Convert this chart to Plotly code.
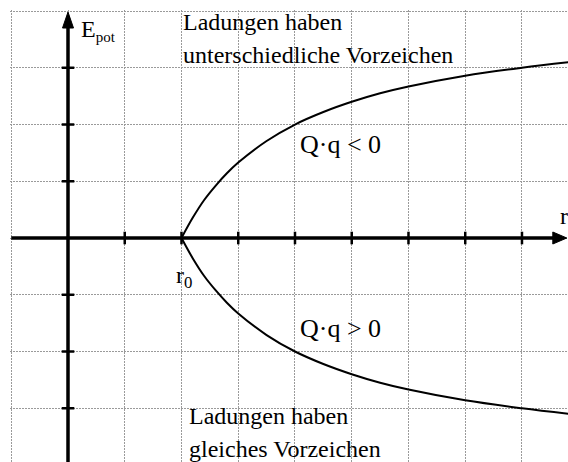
import plotly.graph_objects as go

# Potential energy of two point charges over the distance r (starting at r0)
r_values = [2.0, 2.2, 2.4, 2.6, 2.8, 3.0, 3.5, 4.0, 4.5, 5.0, 5.5, 6.0, 7.0, 8.0, 8.85]
e_opposite = [0, 0.36, 0.67, 0.92, 1.14, 1.33, 1.71, 2.0, 2.22, 2.4, 2.55, 2.67, 2.86, 3.0, 3.1]
e_equal = [0, -0.36, -0.67, -0.92, -1.14, -1.33, -1.71, -2.0, -2.22, -2.4, -2.55, -2.67, -2.86, -3.0, -3.1]

x_ticks = [1, 2, 3, 4, 5, 6, 7, 8]
y_ticks = [-3, -2, -1, 1, 2, 3]
grid_x = [-1, 0, 1, 2, 3, 4, 5, 6, 7, 8]
grid_y = [-3, -2, -1, 0, 1, 2, 3, 4]

X_MIN, X_MAX = -1.022, 8.811
Y_MIN, Y_MAX = -3.947, 4.018
X_TIP, Y_TIP = 8.79, 4.0

FONT = "Liberation Serif"

fig = go.Figure()

# curves
fig.add_trace(go.Scatter(x=r_values, y=e_opposite, mode="lines",
                         line=dict(color="black", width=2, shape="spline"),
                         hoverinfo="skip"))
fig.add_trace(go.Scatter(x=r_values, y=e_equal, mode="lines",
                         line=dict(color="black", width=2, shape="spline"),
                         hoverinfo="skip"))

# tick marks on the axes
fig.add_trace(go.Scatter(x=x_ticks, y=[0] * len(x_ticks), mode="markers",
                         marker=dict(symbol="line-ns", size=9,
                                     line=dict(color="black", width=2.5)),
                         hoverinfo="skip"))
fig.add_trace(go.Scatter(x=[0] * len(y_ticks), y=y_ticks, mode="markers",
                         marker=dict(symbol="line-ew", size=9,
                                     line=dict(color="black", width=2.5)),
                         hoverinfo="skip"))

# axis lines
fig.add_shape(type="line", x0=-1, x1=X_TIP - 0.1, y0=0, y1=0,
              line=dict(color="black", width=3.5), layer="above")
fig.add_shape(type="line", x0=0, x1=0, y0=Y_MIN, y1=Y_TIP - 0.1,
              line=dict(color="black", width=3.5), layer="above")

# arrow heads
fig.add_shape(type="path", xsizemode="pixel", ysizemode="pixel",
              xanchor=0, yanchor=Y_TIP, path="M0,-1 L-5.5,-17 L5.5,-17 Z",
              fillcolor="black", line=dict(color="black", width=1), layer="above")
fig.add_shape(type="path", xsizemode="pixel", ysizemode="pixel",
              xanchor=X_TIP, yanchor=0, path="M0,0 L-14,6 L-14,-6 Z",
              fillcolor="black", line=dict(color="black", width=1), layer="above")

def label(x, y, text, size=24, xanchor="left"):
    fig.add_annotation(x=x, y=y, xref="x", yref="y", text=text, showarrow=False,
                       xanchor=xanchor, yanchor="middle",
                       font=dict(family=FONT, size=size, color="black"))

label(0.2, 3.66, "E<sub><span style='font-size:15px'>pot</span></sub>", size=24)
label(2.0, 3.81, "Ladungen haben")
label(2.0, 3.23, "unterschiedliche Vorzeichen")
label(4.05, 1.64, "Q·q < 0", size=26)
label(4.05, -1.6, "Q·q > 0", size=26)
label(1.87, -0.68, "r<sub>0</sub>", size=24)
label(8.63, 0.38, "r", size=24)
label(2.1, -3.13, "Ladungen haben")
label(2.1, -3.71, "gleiches Vorzeichen")

grid_style = dict(showgrid=True, gridcolor="#9a9a9a", gridwidth=1, griddash="2px,1px",
                  zeroline=False, showline=False, ticks="", showticklabels=False,
                  fixedrange=True)

fig.update_xaxes(range=[X_MIN, X_MAX], tickmode="array", tickvals=grid_x, **grid_style)
fig.update_yaxes(range=[Y_MIN, Y_MAX], tickmode="array", tickvals=grid_y, **grid_style)

fig.update_layout(width=568, height=462, margin=dict(l=10, r=0, t=10, b=0),
                  plot_bgcolor="white", paper_bgcolor="white", showlegend=False)

fig.write_html("out.html", config={"displayModeBar": False})
